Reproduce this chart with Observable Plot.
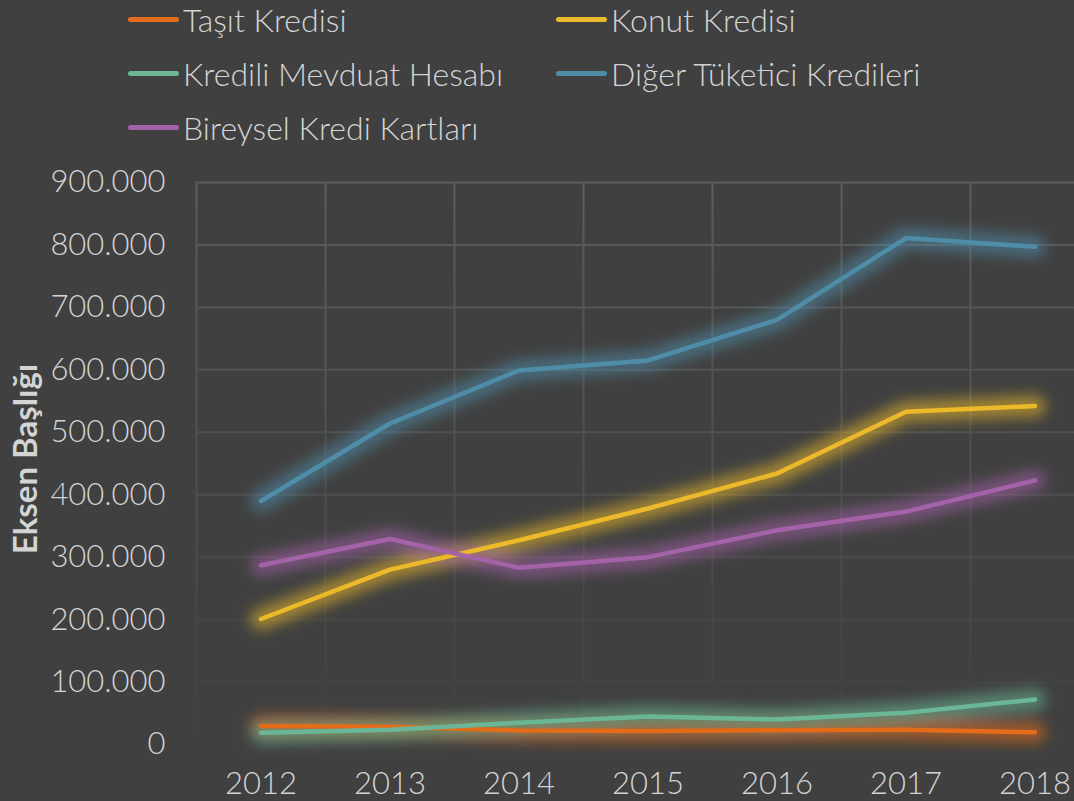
<!DOCTYPE html>
<html>
<head>
<meta charset="utf-8">
<script src="https://cdn.jsdelivr.net/npm/d3@7"></script>
<script src="https://cdn.jsdelivr.net/npm/@observablehq/plot@0.6"></script>
<style>
  body { margin: 0; background: #404040; }
  #chart { width: 1074px; height: 801px; position: relative; overflow: hidden; background: #404040; font-family: Lato, "Open Sans", sans-serif; }
  #legend { position: relative; height: 150px; }
  .item { position: absolute; display: flex; align-items: center; height: 40px; color: #d4d4d4; font-size: 32px; font-weight: 300; white-space: nowrap; }
  .swatch { width: 51px; height: 5px; border-radius: 3px; margin-right: 4px; }
  svg { display: block; }
</style>
</head>
<body>
<div id="chart">
  <div id="legend"></div>
</div>
<script>
// ---- data ----
const years = [2012, 2013, 2014, 2015, 2016, 2017, 2018];
const seriesNames = ["Taşıt Kredisi", "Konut Kredisi", "Kredili Mevduat Hesabı", "Diğer Tüketici Kredileri", "Bireysel Kredi Kartları"];
const seriesColors = ["#E36C1A", "#EBB929", "#6AB696", "#4F8CA7", "#A462A8"];
const tasit    = [29500, 28500, 22500, 21500, 23000, 23500, 19500];
const konut    = [201000, 280000, 327000, 378000, 434000, 533000, 542000];
const kredili  = [19000, 23500, 35000, 45000, 40000, 51000, 72000];
const diger    = [390000, 514000, 599000, 615000, 680000, 811000, 797000];
const bireysel = [287000, 329000, 283000, 300000, 343000, 373000, 423000];
const yTicks = [0, 100000, 200000, 300000, 400000, 500000, 600000, 700000, 800000, 900000];
const yTitle = "Eksen Başlığı";

const seriesValues = [tasit, konut, kredili, diger, bireysel];
const data = seriesNames.flatMap((name, i) => years.map((yr, j) => ({series: name, year: yr, value: seriesValues[i][j]})));
const gridX = years.map(y => y - 0.5).concat([years[years.length - 1] + 0.5]);

const fmt = d3.formatLocale({decimal: ",", thousands: ".", grouping: [3], currency: ["", " ₺"]}).format(",");

// ---- legend ----
const legend = document.getElementById("legend");
const legendPos = [[128, 19], [556, 19], [128, 73], [556, 73], [128, 127]];
seriesNames.forEach((name, i) => {
  const it = document.createElement("div");
  it.className = "item";
  it.style.left = legendPos[i][0] + "px";
  it.style.top = (legendPos[i][1] - 20) + "px";
  const sw = document.createElement("div");
  sw.className = "swatch";
  sw.style.background = seriesColors[i];
  const tx = document.createElement("span");
  tx.textContent = name;
  it.appendChild(sw); it.appendChild(tx);
  legend.appendChild(it);
});

// ---- chart ----
const plot = Plot.plot({
  width: 1074,
  height: 651,
  marginTop: 32,
  marginBottom: 57,
  marginLeft: 196,
  marginRight: 0,
  style: {background: "transparent", color: "#d4d4d4", fontFamily: "Lato, 'Open Sans', sans-serif", fontSize: "31px", fontWeight: 300, overflow: "hidden"},
  x: {domain: [2011.5, 2018.306]},
  y: {domain: [0, 900000]},
  color: {domain: seriesNames, range: seriesColors},
  marks: [
    Plot.ruleX(gridX, {stroke: "url(#gridFade)", strokeWidth: 2}),
    Plot.ruleY(yTicks, {stroke: "url(#gridFade)", strokeWidth: 2}),
    Plot.lineY(data, {x: "year", y: "value", z: "series", stroke: "series", strokeWidth: 22, strokeOpacity: 0.55, strokeLinejoin: "round", strokeLinecap: "round"}),
    Plot.lineY(data, {x: "year", y: "value", z: "series", stroke: "series", strokeWidth: 4.5, strokeLinejoin: "round", strokeLinecap: "round"}),
    Plot.axisX({ticks: years, tickSize: 0, tickPadding: 27, tickFormat: d => String(d), label: null}),
    Plot.axisY({ticks: yTicks, tickSize: 0, tickPadding: 31, tickFormat: fmt, label: null})
  ]
});

const ys = plot.scale("y");
const yTop = ys.apply(900000), yBot = ys.apply(0);
const svg = d3.select(plot);
const defs = svg.insert("defs", ":first-child");
const grad = defs.append("linearGradient").attr("id", "gridFade").attr("gradientUnits", "userSpaceOnUse")
  .attr("x1", 0).attr("x2", 0).attr("y1", yTop).attr("y2", yBot);
grad.append("stop").attr("offset", "0").attr("stop-color", "#5c5c5c");
grad.append("stop").attr("offset", "0.55").attr("stop-color", "#4e4e4e");
grad.append("stop").attr("offset", "1").attr("stop-color", "#404040");
defs.append("filter").attr("id", "glow").attr("x", "-10%").attr("y", "-20%").attr("width", "120%").attr("height", "140%")
  .append("feGaussianBlur").attr("stdDeviation", 6.5);
const lineGroups = plot.querySelectorAll('g[aria-label="line"]');
if (lineGroups.length) lineGroups[0].setAttribute("filter", "url(#glow)");

// y-axis title
svg.append("text")
  .attr("transform", `translate(25,${(yTop + yBot) / 2 - 4}) rotate(-90)`)
  .attr("text-anchor", "middle")
  .attr("dy", "0.35em")
  .attr("fill", "#d4d4d4")
  .attr("font-family", "Lato, 'Open Sans', sans-serif")
  .attr("font-weight", "bold")
  .attr("font-size", 33)
  .text(yTitle);

document.getElementById("chart").appendChild(plot);
</script>
</body>
</html>
